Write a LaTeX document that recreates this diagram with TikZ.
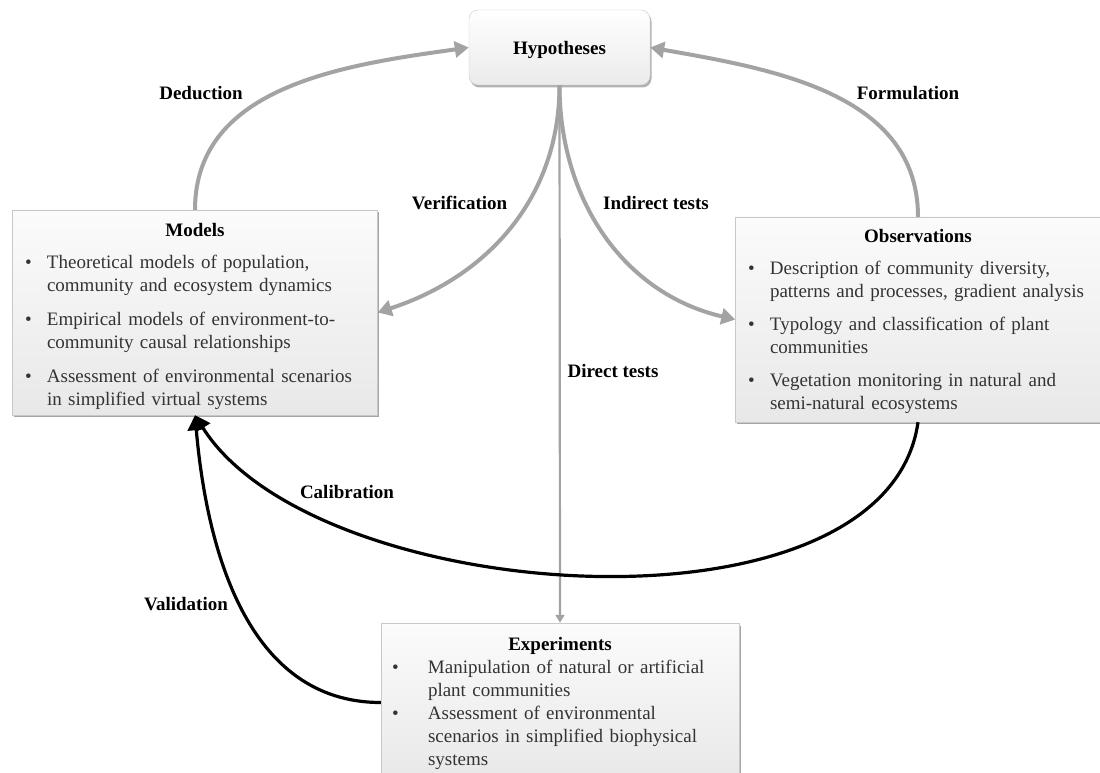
\documentclass[tikz,border=0pt]{standalone}
\usepackage{fontspec}
\setmainfont{Liberation Serif}
\usetikzlibrary{arrows.meta,shadows}

\definecolor{arrowgray}{HTML}{A3A3A3}
\definecolor{boxline}{HTML}{C8C8C8}
\setlength{\parindent}{0pt}
\newcommand{\bitem}[2][0pt]{\par\vspace{#1}\hangindent=#2\hangafter=1\noindent\makebox[#2][l]{\textbullet}}

\tikzset{
  panel/.style={draw=boxline, top color=gray!3, bottom color=gray!18,
    drop shadow={shadow xshift=1.5pt,shadow yshift=-2.5pt,fill=black,opacity=.35},
    inner xsep=12.5pt, inner ysep=3pt, minimum height=205pt, text=black!80,
    font=\fontsize{19}{23}\selectfont, execute at begin node=\raggedright},
  hypo/.style={draw=boxline, rounded corners=9pt, top color=white, bottom color=gray!16,
    drop shadow={shadow xshift=1.5pt,shadow yshift=-2.5pt,fill=black,opacity=.3},
    minimum width=181pt, minimum height=75pt, font=\bfseries\fontsize{19}{23}\selectfont},
  lbl/.style={font=\bfseries\fontsize{19}{23}\selectfont},
  gline/.style={draw=arrowgray, line width=4pt, -{Triangle[length=14pt,width=16pt]}},
  dline/.style={draw=arrowgray, line width=2.2pt, -{Triangle[length=8pt,width=9pt]}},
  bline/.style={draw=black, line width=3.2pt, -{Triangle[length=15pt,width=17pt]}}
}

\begin{document}
\begin{tikzpicture}[x=1pt,y=1pt]
  \useasboundingbox (0,0) rectangle (1100,772);
  \node[hypo] (hyp) at (559.5,724.5) {\rule{0pt}{19pt}Hypotheses};
  \node[panel, text width=340pt] (models) at (195,459.5) {%
    {\centering\color{black}\rule{0pt}{22pt}\textbf{Models}\par}\vspace{9pt}
    \bitem{22pt}Theoretical models of population,\newline community and ecosystem dynamics
    \bitem[11pt]{22pt}Empirical models of environment-to-\newline community causal relationships
    \bitem[11pt]{22pt}Assessment of environmental scenarios\newline in simplified virtual systems\par};
  \node[panel, text width=340pt] (obs) at (918,452.5) {%
    {\centering\color{black}\rule{0pt}{18pt}\textbf{Observations}\par}\vspace{9pt}
    \bitem{22pt}Description of community diversity,\newline patterns and processes, gradient analysis
    \bitem[10pt]{22pt}Typology and classification of plant\newline communities
    \bitem[10pt]{22pt}Vegetation monitoring in natural and\newline semi-natural ecosystems\par};
  \node[panel, text width=336pt, inner xsep=11pt, minimum height=159pt] (exp) at (560,69.5) {%
    {\centering\color{black}\rule{0pt}{16pt}\textbf{Experiments}\par}
    \bitem{36pt}Manipulation of natural or artificial\newline plant communities
    \bitem{36pt}Assessment of environmental\newline scenarios in simplified biophysical\newline systems\par};

  \node[lbl] (ded) at (201,679) {Deduction};
  \node[lbl] (form) at (908,679) {Formulation};
  \node[lbl] (verif) at (459.5,569) {Verification};
  \node[lbl] (indir) at (656,569) {Indirect tests};
  \node[lbl] (direct) at (613,401) {Direct tests};
  \node[lbl] (calib) at (347,280) {Calibration};
  \node[lbl] (valid) at (186,168) {Validation};

  \draw[gline] (models.north) to[out=90,in=188] (hyp.west);
  \draw[gline] (obs.north) to[out=90,in=-10] (hyp.east);
  \draw[gline] (hyp.south) to[out=-90,in=18] (models.east);
  \draw[gline] (hyp.south) to[out=-90,in=167] (obs.west);
  \draw[dline] (hyp.south) -- (exp.north);
  \draw[bline] (obs.south) to[out=-98,in=-58,looseness=.8] (models.south);
  \draw[bline] (exp.west) to[out=180,in=-85] (models.south);
\end{tikzpicture}
\end{document}
